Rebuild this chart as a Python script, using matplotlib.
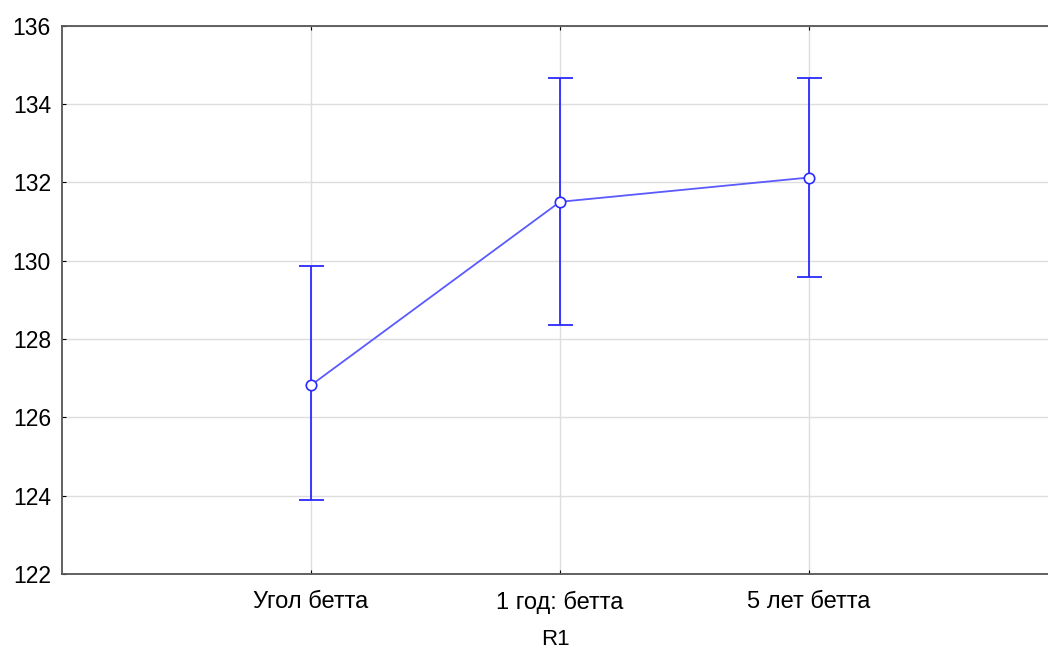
import numpy as np
import matplotlib.pyplot as plt

plt.rcParams['font.family'] = ['Liberation Sans', 'DejaVu Sans']

# Данные: средние и границы доверительных интервалов
categories = ['Угол бетта', '1 год: бетта', '5 лет бетта']
means = np.array([126.82, 131.50, 132.12])
upper = np.array([129.85, 134.67, 134.67])
lower = np.array([123.88, 128.36, 129.58])

x = np.arange(1, len(categories) + 1)

fig = plt.figure(figsize=(10.48, 6.51), dpi=100)
ax = fig.add_axes([0.0592, 0.1183, 0.9408, 0.8425])

ax.plot(x, means, color='#5a5aff', lw=1.3, zorder=3)
ax.errorbar(x, means, yerr=[means - lower, upper - means], fmt='none',
            ecolor='#2a2aff', elinewidth=1.3, capsize=9, capthick=1.3, zorder=3)
ax.plot(x, means, 'o', mfc='white', mec='#2a2aff', ms=7.5, mew=1.2, zorder=4)

ax.set_xlim(0, (1048 - 62) / 249.0)
ax.set_ylim(122, 136)
ax.set_yticks(np.arange(122, 137, 2))
ax.set_xticks(x)
ax.set_xticklabels(categories, fontsize=17)
ax.tick_params(axis='y', labelsize=16.5, direction='in', length=3, pad=8)
ax.tick_params(axis='x', direction='in', length=3, pad=12, top=True)
ax.set_xlabel('R1', fontsize=16, labelpad=11)

ax.grid(True, color='#dddddd', lw=1)
ax.set_axisbelow(True)
for s in ['left', 'bottom', 'top']:
    ax.spines[s].set_color('#555555')
    ax.spines[s].set_linewidth(1.3)
ax.spines['right'].set_visible(False)

fig.savefig('out.png', dpi=100)
